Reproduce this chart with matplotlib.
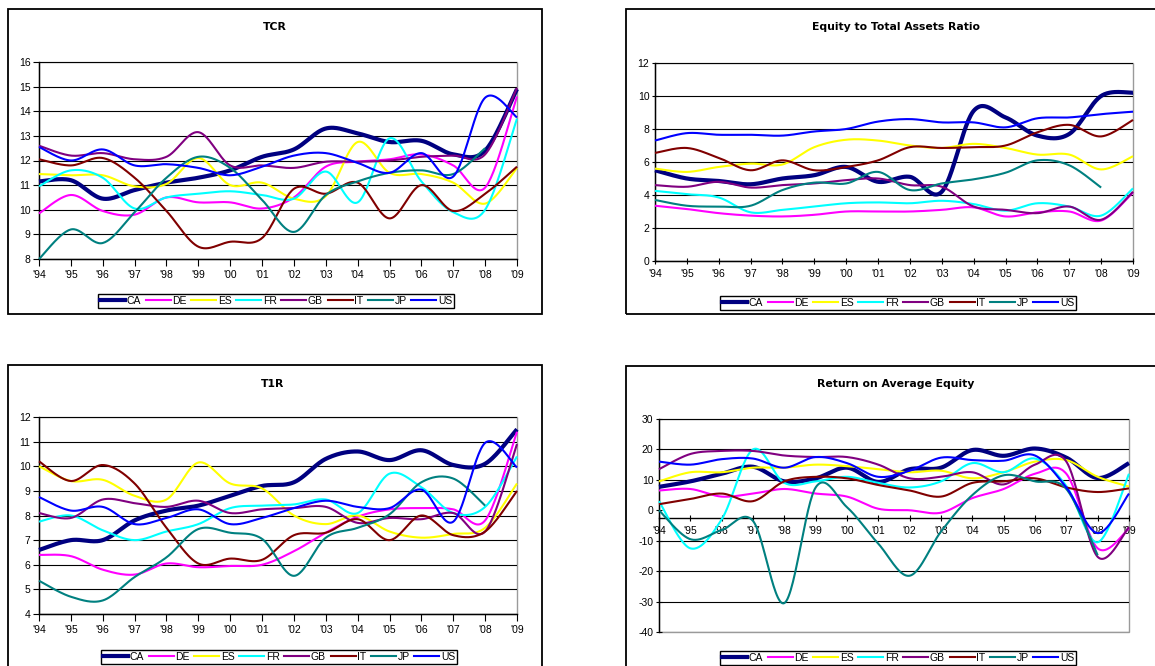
import numpy as np
import matplotlib
matplotlib.use("Agg")
import matplotlib.pyplot as plt
from matplotlib.patches import Rectangle
from matplotlib.lines import Line2D

plt.rcParams['font.family'] = ['Liberation Sans', 'DejaVu Sans']

years = ["'94", "'95", "'96", "'97", "'98", "'99", "'00", "'01",
         "'02", "'03", "'04", "'05", "'06", "'07", "'08", "'09"]
countries = ["CA", "DE", "ES", "FR", "GB", "IT", "JP", "US"]
colors = {"CA": "#000080", "DE": "#FF00FF", "ES": "#FFFF00", "FR": "#00FFFF",
          "GB": "#800080", "IT": "#800000", "JP": "#008080", "US": "#0000FF"}
nan = np.nan

# Total capital ratio
tcr = {
    "CA": [11.15, 11.2, 10.45, 10.8, 11.1, 11.3, 11.6, 12.15, 12.45, 13.3, 13.1, 12.75, 12.8, 12.25, 12.4, 14.9],
    "DE": [9.85, 10.6, 9.95, 9.8, 10.5, 10.3, 10.3, 10.05, 10.5, 11.75, 11.95, 12.05, 12.25, 11.8, 10.9, 14.6],
    "ES": [11.45, 11.4, 11.4, 10.95, 11.05, 12.1, 11.0, 11.1, 10.45, 10.55, 12.75, 11.5, 11.45, 11.1, 10.25, 11.7],
    "FR": [10.95, 11.6, 11.3, 10.05, 10.5, 10.65, 10.75, 10.6, 10.45, 11.55, 10.3, 12.9, 11.15, 9.9, 10.0, 13.7],
    "GB": [12.6, 12.2, 12.3, 12.05, 12.15, 13.15, 11.8, 11.8, 11.7, 11.95, 11.95, 12.0, 12.15, 12.2, 12.25, 14.95],
    "IT": [12.05, 11.8, 12.1, 11.3, 9.95, 8.5, 8.7, 8.85, 10.85, 10.65, 11.1, 9.65, 11.0, 9.95, 10.65, 11.75],
    "JP": [8.0, 9.2, 8.65, 9.9, 11.3, 12.15, 11.7, 10.4, 9.1, 10.6, 11.15, 11.5, 11.6, 11.45, 12.5, nan],
    "US": [12.55, 12.0, 12.45, 11.8, 11.85, 11.7, 11.4, 11.75, 12.2, 12.3, 11.9, 11.5, 12.3, 11.35, 14.55, 13.75],
}

# Equity to total assets ratio
eta = {
    "CA": [5.5, 5.0, 4.85, 4.65, 5.0, 5.2, 5.7, 4.8, 5.1, 4.2, 9.1, 8.7, 7.6, 7.7, 10.0, 10.2],
    "DE": [3.35, 3.15, 2.9, 2.75, 2.7, 2.8, 3.0, 3.0, 3.0, 3.1, 3.25, 2.7, 2.95, 3.0, 2.45, 4.15],
    "ES": [5.6, 5.4, 5.7, 5.9, 5.85, 6.9, 7.35, 7.3, 7.0, 6.85, 7.1, 6.85, 6.45, 6.45, 5.55, 6.35],
    "FR": [4.25, 4.05, 3.85, 2.95, 3.1, 3.3, 3.5, 3.55, 3.5, 3.65, 3.45, 3.05, 3.5, 3.3, 2.75, 4.4],
    "GB": [4.6, 4.5, 4.8, 4.45, 4.6, 4.7, 4.9, 5.0, 4.6, 4.5, 3.3, 3.1, 2.9, 3.3, 2.5, 4.2],
    "IT": [6.55, 6.85, 6.25, 5.5, 6.1, 5.5, 5.7, 6.1, 6.9, 6.85, 6.9, 7.0, 7.8, 8.25, 7.55, 8.55],
    "JP": [3.7, 3.35, 3.3, 3.35, 4.3, 4.75, 4.7, 5.4, 4.3, 4.7, 4.95, 5.35, 6.1, 5.8, 4.45, nan],
    "US": [7.3, 7.75, 7.65, 7.65, 7.6, 7.85, 8.0, 8.45, 8.6, 8.4, 8.4, 8.1, 8.65, 8.7, 8.9, 9.05],
}

# Tier 1 ratio
t1r = {
    "CA": [6.6, 7.0, 7.0, 7.8, 8.2, 8.4, 8.8, 9.2, 9.35, 10.3, 10.6, 10.25, 10.65, 10.05, 10.1, 11.5],
    "DE": [6.4, 6.35, 5.8, 5.6, 6.05, 5.9, 5.95, 6.0, 6.55, 7.3, 7.95, 8.25, 8.3, 8.25, 7.8, 11.4],
    "ES": [10.0, 9.4, 9.45, 8.8, 8.65, 10.15, 9.3, 9.1, 8.0, 7.65, 8.0, 7.35, 7.1, 7.25, 7.5, 9.3],
    "FR": [7.75, 8.0, 7.4, 7.0, 7.35, 7.65, 8.3, 8.4, 8.45, 8.65, 8.1, 9.7, 9.15, 8.1, 8.35, 10.4],
    "GB": [8.1, 7.9, 8.65, 8.5, 8.35, 8.6, 8.1, 8.25, 8.3, 8.35, 7.7, 7.9, 7.85, 8.1, 7.35, 10.9],
    "IT": [10.2, 9.4, 10.05, 9.3, 7.5, 6.05, 6.25, 6.2, 7.2, 7.3, 7.85, 7.0, 8.0, 7.2, 7.35, 9.0],
    "JP": [5.35, 4.7, 4.55, 5.5, 6.3, 7.45, 7.3, 7.05, 5.55, 7.1, 7.5, 8.05, 9.35, 9.5, 8.4, nan],
    "US": [8.75, 8.2, 8.35, 7.65, 7.9, 8.25, 7.65, 7.9, 8.3, 8.6, 8.35, 8.3, 9.05, 7.75, 10.95, 9.95],
}

# Return on average equity
roae = {
    "CA": [7.7, 9.5, 12.0, 14.3, 9.5, 10.5, 14.0, 9.3, 13.5, 14.0, 19.8, 17.9, 20.3, 17.3, 10.6, 15.5],
    "DE": [6.5, 7.0, 4.5, 5.5, 7.0, 5.5, 4.5, 0.5, 0.0, -0.8, 4.0, 7.0, 12.0, 12.0, -12.5, -6.0],
    "ES": [9.5, 12.5, 12.5, 14.0, 14.0, 15.0, 14.5, 13.5, 12.5, 13.0, 10.5, 12.5, 16.0, 16.5, 11.0, 7.8],
    "FR": [3.0, -12.5, -3.0, 20.0, 9.0, 9.5, 11.0, 9.0, 7.5, 9.5, 15.5, 12.5, 17.0, 8.0, -10.5, 12.0],
    "GB": [13.5, 18.5, 19.5, 19.5, 18.0, 17.5, 17.5, 15.0, 10.5, 11.0, 12.5, 8.5, 15.0, 16.0, -15.3, -5.5],
    "IT": [2.0, 3.7, 5.5, 3.0, 9.5, 11.0, 10.5, 8.3, 6.5, 4.5, 9.0, 9.5, 10.5, 7.5, 6.0, 7.2],
    "JP": [0.0, -9.5, -6.5, -3.5, -30.5, 7.5, 1.0, -11.0, -21.5, -7.0, 5.0, 11.5, 9.5, 7.0, -14.8, nan],
    "US": [16.0, 15.0, 16.8, 17.0, 14.0, 17.5, 15.5, 11.0, 13.0, 17.3, 16.5, 16.3, 18.0, 7.5, -7.5, 5.5],
}

W, H = 1155, 666


def fig_rect(x0, y0, x1, y1):
    """Pixel box (top-left origin) -> figure fraction [left, bottom, width, height]."""
    return [x0 / W, 1 - y1 / H, (x1 - x0) / W, (y1 - y0) / H]


def smooth(xs, ys, n=30):
    """Smoothed curve through the points (cubic Bezier, Catmull-Rom tangents)."""
    ok = np.isfinite(ys)
    P = np.column_stack([np.asarray(xs, float)[ok], np.asarray(ys, float)[ok]])
    Pe = np.vstack([P[0], P, P[-1]])
    t = np.linspace(0, 1, n)[:, None]
    out = []
    for i in range(len(P) - 1):
        a, b, c, d = Pe[i], Pe[i + 1], Pe[i + 2], Pe[i + 3]
        c1 = b + (c - a) / 6.0
        c2 = c - (d - b) / 6.0
        seg = ((1 - t) ** 3) * b + 3 * ((1 - t) ** 2) * t * c1 + 3 * (1 - t) * t ** 2 * c2 + t ** 3 * c
        out.append(seg if i == 0 else seg[1:])
    pts = np.vstack(out)
    return pts[:, 0], pts[:, 1]


fig = plt.figure(figsize=(W / 100, H / 100), dpi=100)

# chart frames
for (x0, y0, x1, y1) in [(8, 9, 542, 314), (626, 9, 1170, 314),
                         (8, 365, 542, 680), (626, 366, 1170, 680)]:
    fig.patches.append(Rectangle((x0 / W, 1 - y1 / H), (x1 - x0) / W, (y1 - y0) / H,
                                 transform=fig.transFigure, fill=False,
                                 edgecolor="black", lw=1.3, zorder=0))

panels = [
    dict(data=tcr, title="TCR", box=(39, 62, 517, 259), ylim=(8, 16), step=1,
         title_xy=(275, 27), leg_xy=(276, 301), tickdir="out", xaxis_at=None),
    dict(data=eta, title="Equity to Total Assets Ratio", box=(655, 63, 1133, 261),
         ylim=(0, 12), step=2, title_xy=(896, 27), leg_xy=(898, 303),
         tickdir="inout", xaxis_at=None),
    dict(data=t1r, title="T1R", box=(39, 417, 517, 614), ylim=(4, 12), step=1,
         title_xy=(273, 384), leg_xy=(279, 657), tickdir="out", xaxis_at=None),
    dict(data=roae, title="Return on Average Equity", box=(659, 419, 1129, 632),
         ylim=(-40, 30), step=10, title_xy=(896, 384), leg_xy=(898, 658),
         tickdir="inout", xaxis_at=-2.6),
]

x = np.arange(len(years))

for p in panels:
    ax = fig.add_axes(fig_rect(*p["box"]))
    lo, hi = p["ylim"]
    ax.set_xlim(0, len(years) - 1)
    ax.set_ylim(lo, hi)
    yt = np.arange(lo, hi + 0.001, p["step"])
    ax.set_yticks(yt)
    ax.set_yticklabels([f"{v:g}" for v in yt])
    ax.set_xticks(x)
    ax.set_xticklabels(years)

    # plot area border
    ax.add_patch(Rectangle((0, 0), 1, 1, transform=ax.transAxes, fill=False,
                           edgecolor="#9a9a9a", lw=1.0, zorder=0.5, clip_on=False))
    for s in ("top", "right"):
        ax.spines[s].set_visible(False)
    ax.spines["left"].set_color("black")
    ax.spines["left"].set_linewidth(1.0)
    ax.spines["bottom"].set_color("black")
    ax.spines["bottom"].set_linewidth(1.0)
    if p["xaxis_at"] is not None:
        ax.spines["bottom"].set_position(("data", p["xaxis_at"]))

    ax.yaxis.grid(True, color="black", lw=0.8)
    ax.set_axisbelow(True)
    if p["xaxis_at"] is not None:
        for v, gl in zip(yt, ax.get_ygridlines()):
            if v == 0:
                gl.set_visible(False)

    ax.tick_params(axis="both", labelsize=7.5, colors="black", width=0.8, pad=2)
    ax.tick_params(axis="x", direction=p["tickdir"], length=5, pad=3)
    ax.tick_params(axis="y", direction=p["tickdir"], length=4)

    for c in countries:
        sx, sy = smooth(x, np.asarray(p["data"][c], float))
        ax.plot(sx, sy, color=colors[c], lw=3.0 if c == "CA" else 1.5,
                solid_capstyle="butt", zorder=3, clip_on=False)

    fig.text(p["title_xy"][0] / W, 1 - p["title_xy"][1] / H, p["title"],
             ha="center", va="center", fontsize=7.8, fontweight="bold",
             family=["DejaVu Sans"])

    handles = [Line2D([], [], color=colors[c], lw=3.0 if c == "CA" else 1.5) for c in countries]
    leg = fig.legend(handles, countries, loc="center",
                     bbox_to_anchor=(p["leg_xy"][0] / W, 1 - p["leg_xy"][1] / H),
                     ncol=8, fontsize=7.5, frameon=True, fancybox=False,
                     edgecolor="black", framealpha=1, borderpad=0.2,
                     handlelength=2.4, handletextpad=0.15, columnspacing=0.45,
                     borderaxespad=0)
    leg.get_frame().set_linewidth(1.0)

fig.savefig("out.png", dpi=100)
